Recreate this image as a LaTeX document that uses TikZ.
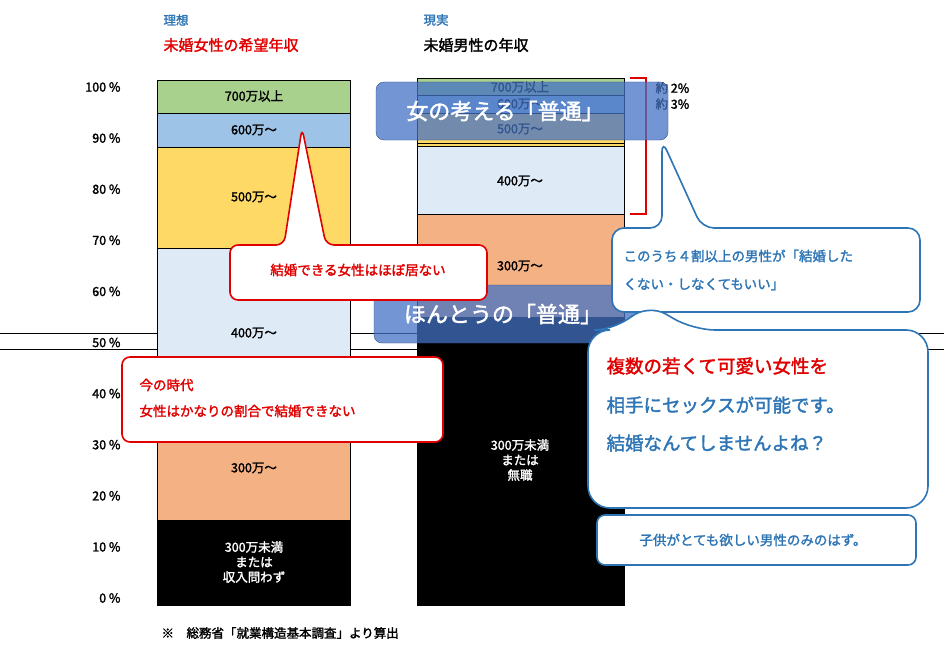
\documentclass[tikz,border=0pt]{standalone}
\usepackage{fontspec}
\setmainfont{Noto Sans CJK JP}[FakeBold=1.8]
\usetikzlibrary{positioning}
\definecolor{cgreen}{HTML}{A9D18E}
\definecolor{cblue}{HTML}{9DC3E6}
\definecolor{cyellow}{HTML}{FFD966}
\definecolor{clight}{HTML}{DEEBF7}
\definecolor{corange}{HTML}{F4B183}
\definecolor{cred}{HTML}{E00000}
\definecolor{cline}{HTML}{2E75B6}
\definecolor{cover}{HTML}{4472C4}
\tikzset{
  seg/.style={draw=black,line width=0.6pt},
  lab/.style={font=\fontsize{12.5}{15}\selectfont,align=center},
  redbox/.style={draw=cred,line width=1.6pt,fill=white,rounded corners=8pt},
  bluebox/.style={draw=cline,line width=1.6pt,fill=white,rounded corners=12pt},
  over/.style={fill=cover,fill opacity=0.75,draw=cover!70!black,rounded corners=8pt},
}
\begin{document}
\begin{tikzpicture}[x=1pt,y=-1pt]
\useasboundingbox (0,0) rectangle (944,658);
% axis labels
\foreach \p in {0,10,...,100}
  \node[lab,anchor=east] (ax\p) at (124,{598-5.11*\p}) {\p\ \%};
% horizontal lines
\draw[line width=0.6pt] (0,333) -- (944,333);
\draw[line width=0.6pt] (0,349) -- (944,349);
% left bar
\filldraw[seg,fill=black] (157,605) rectangle (350,520);
\filldraw[seg,fill=corange] (157,520) rectangle (350,440);
\filldraw[seg,fill=clight] (157,440) rectangle (350,248);
\filldraw[seg,fill=cyellow] (157,248) rectangle (350,147);
\filldraw[seg,fill=cblue] (157,147) rectangle (350,113);
\filldraw[seg,fill=cgreen] (157,113) rectangle (350,80);
\node[lab,text=white] (l300u) at (254,562) {300万未満\\または\\収入問わず};
\node[lab] (l300) at (254,468) {300万～};
\node[lab] (l400) at (254,333) {400万～};
\node[lab] (l500) at (254,197) {500万～};
\node[lab] (l600) at (254,130) {600万～};
\node[lab] (l700) at (254,96) {700万以上};
% right bar
\filldraw[seg,fill=black] (417,605) rectangle (624,317);
\filldraw[seg,fill=corange] (417,317) rectangle (624,214);
\filldraw[seg,fill=clight] (417,214) rectangle (624,146);
\filldraw[seg,fill=cyellow] (417,146) rectangle (624,143);
\filldraw[seg,fill=cyellow] (417,143) rectangle (624,113);
\filldraw[seg,fill=cblue] (417,113) rectangle (624,95);
\filldraw[seg,fill=cgreen] (417,95) rectangle (624,78);
\node[lab,text=white] (r300u) at (520,460) {300万未満\\または\\無職};
\node[lab] (r300) at (520,266) {300万～};
\node[lab] (r400) at (520,181) {400万～};
\node[lab] (r500) at (520,129) {500万～};
\node[lab] (r600) at (520,104) {600万～};
\node[lab] (r700) at (520,87) {700万以上};
% bracket
\draw[cred,line width=2.5pt] (630,78) -- (646,78) -- (646,214) -- (630,214);
\node[lab,anchor=west] (p2) at (652,88) {約 2\%};
\node[lab,anchor=west] (p3) at (652,104) {約 3\%};
% titles
\node[lab,text=cline,anchor=west] (t1) at (160,20) {理想};
\node[font=\fontsize{15}{17}\selectfont,text=cred,anchor=west] (t1b) at (160,45) {未婚女性の希望年収};
\node[lab,text=cline,anchor=west] (t2) at (420,20) {現実};
\node[font=\fontsize{15}{17}\selectfont,anchor=west] (t2b) at (420,45) {未婚男性の年収};
\node[lab,anchor=west] (note) at (158,633) {※\quad 総務省「就業構造基本調査」より算出};
% overlays
\fill[over] (376,82) rectangle (668,140);
\node[font=\fontsize{22}{26}\selectfont,text=white] (o1) at (505,111) {女の考える「普通」};
\fill[over] (374,285) rectangle (636,343);
\node[font=\fontsize{22}{26}\selectfont,text=white] (o2) at (503,314) {ほんとうの「普通」};
% red callouts
\draw[redbox] (230,245) -- (284,245) -- (302,128) -- (326,245) -- (487,245) -- (487,300) -- (230,300) -- cycle;
\node[text=cred,font=\fontsize{13.5}{15}\selectfont] (c1) at (358,270) {結婚できる女性はほぼ居ない};
\draw[redbox] (122,357) rectangle (443,442);
\node[text=cred,font=\fontsize{13.5}{26}\selectfont,align=left,anchor=west] (c2) at (136,398) {今の時代\\女性はかなりの割合で結婚できない};
% blue callouts
\draw[bluebox] (612,228) -- (662,228) -- (662,140) -- (702,228) -- (920,228) -- (920,312) -- (612,312) -- cycle;
\node[text=cline,font=\fontsize{13.5}{28}\selectfont,align=left,anchor=west] (c3) at (620,270) {このうち４割以上の男性が「結婚した\\くない・しなくてもいい」};
\draw[bluebox,rounded corners=22pt] (588,330) -- (616,330) -- (647,303) -- (693,330) -- (928,330) -- (928,508) -- (588,508) -- cycle;
\node[text=cred,font=\fontsize{18.5}{38}\selectfont,align=left,anchor=west] (c4a) at (603,366) {複数の若くて可愛い女性を};
\node[text=cline,font=\fontsize{18.5}{38}\selectfont,align=left,anchor=west] (c4b) at (603,424) {相手にセックスが可能です。\\結婚なんてしませんよね？};
\draw[bluebox,rounded corners=8pt] (597,515) rectangle (916,565);
\node[text=cline,font=\fontsize{13.5}{15}\selectfont] (c5) at (753,540) {子供がとても欲しい男性のみのはず。};
\end{tikzpicture}
\end{document}
